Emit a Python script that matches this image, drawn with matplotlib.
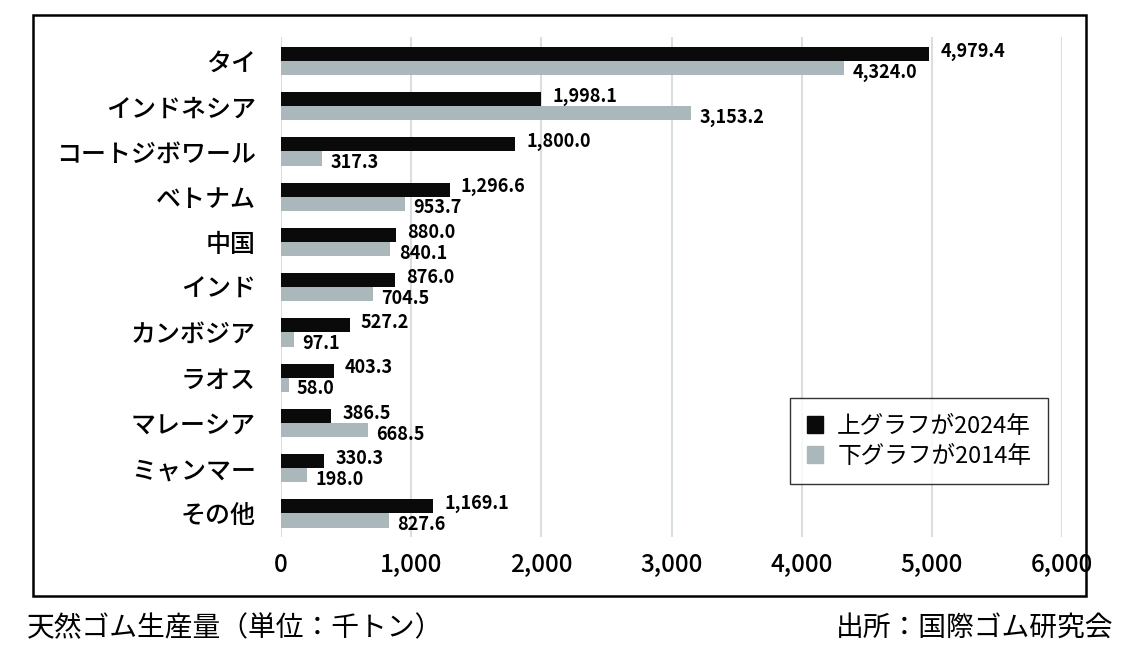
import matplotlib
matplotlib.use("Agg")
import matplotlib.pyplot as plt
from matplotlib.patches import Rectangle, Patch

plt.rcParams["font.family"] = ["Noto Sans CJK JP", "DejaVu Sans"]

# Данные: производство натурального каучука (тыс. т)
countries = ["タイ", "インドネシア", "コートジボワール", "ベトナム", "中国", "インド",
             "カンボジア", "ラオス", "マレーシア", "ミャンマー", "その他"]
values_2024 = [4979.4, 1998.1, 1800.0, 1296.6, 880.0, 876.0, 527.2, 403.3, 386.5, 330.3, 1169.1]
values_2014 = [4324.0, 3153.2, 317.3, 953.7, 840.1, 704.5, 97.1, 58.0, 668.5, 198.0, 827.6]
x_ticks = [0, 1000, 2000, 3000, 4000, 5000, 6000]

BLACK = "#0a0a0a"
GRAY = "#abb8bb"

fig = plt.figure(figsize=(11.36, 6.68), dpi=100)
ax = fig.add_axes([0.2474, 0.1961, 0.6875, 0.7485])

bar_h = 0.31
y = list(range(len(countries)))
y_top = [i - bar_h / 2 for i in y]
y_bot = [i + bar_h / 2 for i in y]

ax.barh(y_top, values_2024, height=bar_h, color=BLACK, zorder=3)
ax.barh(y_bot, values_2014, height=bar_h, color=GRAY, zorder=3)

# Подписи значений
for yi, v in zip(y_top, values_2024):
    ax.annotate(f"{v:,.1f}", (v, yi), xytext=(8, 2), textcoords="offset points",
                va="center", ha="left", fontsize=13, fontweight="bold")
for yi, v in zip(y_bot, values_2014):
    ax.annotate(f"{v:,.1f}", (v, yi), xytext=(6, -3), textcoords="offset points",
                va="center", ha="left", fontsize=13, fontweight="bold")

ax.set_xlim(0, 6000)
ax.set_ylim(10.52, -0.53)
ax.set_xticks(x_ticks)
ax.set_xticklabels([f"{t:,}" for t in x_ticks], fontsize=17.5, fontweight="medium")
ax.set_yticks(y)
ax.set_yticklabels(countries, fontsize=18, fontweight="medium")
ax.tick_params(length=0)
ax.tick_params(axis="x", pad=11)
ax.tick_params(axis="y", pad=18)
for s in ax.spines.values():
    s.set_visible(False)
ax.grid(axis="x", color="#d9dede", linewidth=1.5, zorder=0)
ax.set_axisbelow(True)

# Рамка вокруг графика
fig.patches.append(Rectangle((0.029, 0.1078), 0.927, 0.8698, transform=fig.transFigure,
                             fill=False, edgecolor="black", linewidth=1.8))

handles = [Patch(color=BLACK, label="上グラフが2024年"),
           Patch(color=GRAY, label="下グラフが2014年")]
leg = fig.legend(handles=handles, loc="upper left", bbox_to_anchor=(0.6954, 0.404),
                 borderaxespad=0, fontsize=17, frameon=True, fancybox=False,
                 edgecolor="black", handlelength=0.7, handleheight=0.7,
                 handletextpad=0.6, borderpad=0.7, labelspacing=0.3)
leg.get_frame().set_linewidth(1.0)

fig.text(0.024, 0.06, "天然ゴム生産量（単位：千トン）", fontsize=20, va="center", ha="left")
fig.text(0.98, 0.06, "出所：国際ゴム研究会", fontsize=20, va="center", ha="right")

fig.savefig("out.png", dpi=100)
